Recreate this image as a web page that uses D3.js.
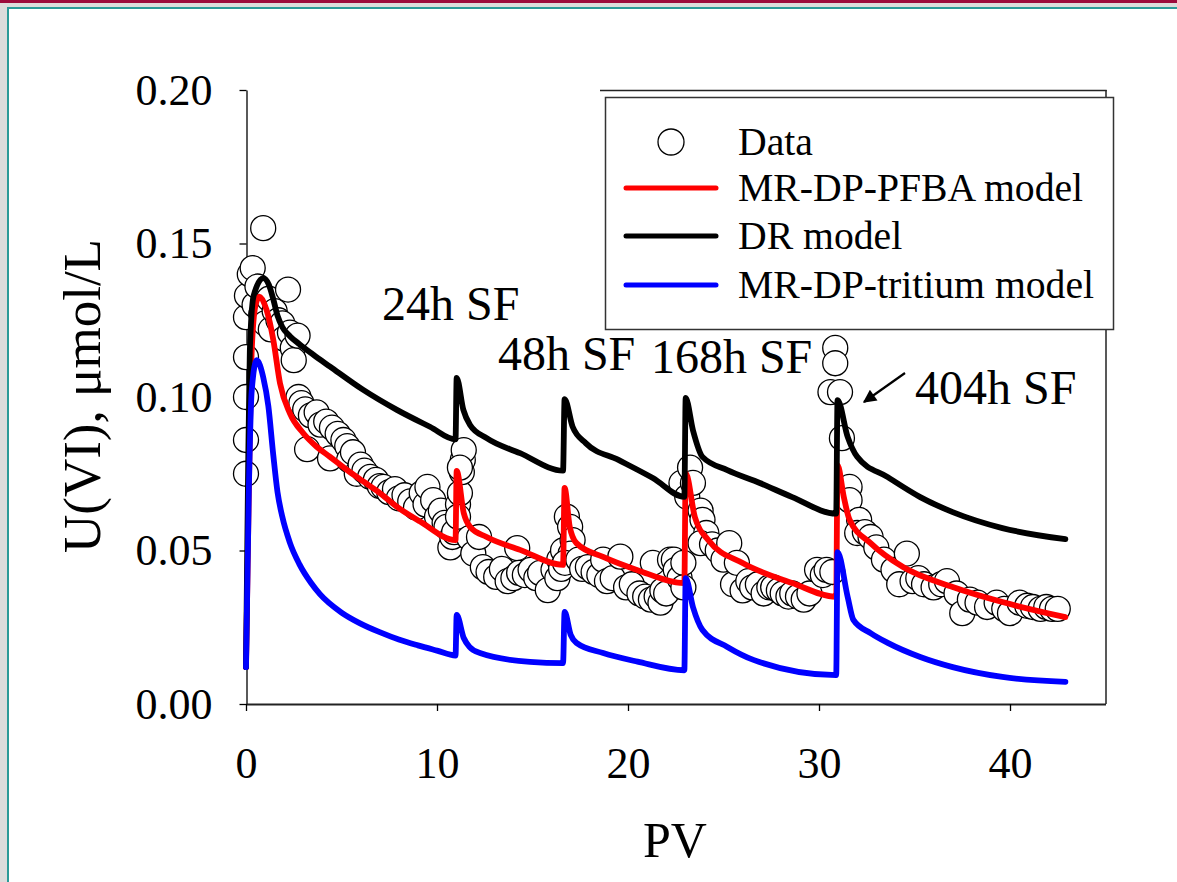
<!DOCTYPE html>
<html>
<head>
<meta charset="utf-8">
<script src="https://cdn.jsdelivr.net/npm/d3@7"></script>
<style>
  body { margin: 0; background: #fff; }
  svg text { font-family: "Liberation Serif", "Times New Roman", serif; fill: #000; }
</style>
</head>
<body>
<div id="chart"></div>
<script>
// tick labels
const xTicks = [0, 10, 20, 30, 40];
const yTicks = [0, 0.05, 0.10, 0.15, 0.20];

// measured data (PV, U(VI) umol/L)
const dataPV = [0.0,0.0,0.0,0.0,0.0,0.05,0.2,0.35,0.9,0.45,0.6,0.8,1.0,1.2,1.3,1.5,1.7,1.9,2.2,2.0,2.3,2.45,2.5,2.7,
  2.75,2.9,3.1,3.2,3.4,3.7,3.9,4.2,4.4,4.5,4.8,5.1,5.3,5.4,5.6,5.8,6.0,6.2,6.5,6.8,7.0,7.2,7.5,7.8,8.0,8.3,8.6,8.9,9.2,9.4,9.5,9.8,10.0,10.2,10.4,10.5,10.7,10.8,10.9,
  11.1,11.2,11.3,11.35,11.4,11.2,11.1,
  11.7,11.9,12.2,12.4,12.7,13.1,13.4,13.7,14.0,14.2,14.3,14.6,14.9,15.2,15.4,15.8,16.1,16.3,16.4,16.5,
  16.6,16.8,16.97,17.1,17.0,16.7,
  17.4,17.6,17.9,18.2,18.5,18.7,18.9,19.2,19.6,19.9,20.2,20.6,20.9,21.2,21.3,21.5,21.7,21.8,22.0,22.2,22.4,22.5,22.7,22.9,22.9,
  22.8,23.1,23.25,23.4,23.8,23.9,24.1,23.8,24.4,
  24.7,25.0,25.3,25.5,25.7,26.0,26.3,26.5,26.8,27.1,27.4,27.6,27.9,28.1,28.4,28.6,28.9,29.2,29.5,29.9,30.2,30.4,30.7,
  30.6,30.85,30.85,31.1,31.2,
  31.6,31.6,32.1,32.0,32.4,32.7,33.0,33.4,33.9,34.2,34.6,34.9,35.2,35.5,36.0,36.4,36.7,37.2,37.5,37.9,38.3,38.8,39.3,39.7,40.0,40.5,40.9,41.2,41.6,41.9,42.2,42.5];
const dataU = [0.075,0.086,0.100,0.113,0.126,0.133,0.140,0.142,0.155,0.130,0.136,0.127,0.124,0.132,0.122,0.128,0.125,0.124,0.135,0.119,0.121,0.116,0.112,0.120,
  0.100,0.098,0.096,0.083,0.094,0.095,0.091,0.092,0.080,0.090,0.088,0.086,0.084,0.0795,0.082,0.075,0.078,0.076,0.074,0.073,0.071,0.0707,0.069,0.070,0.067,0.068,0.066,0.064,0.0687,0.065,0.0707,0.0664,0.061,0.063,0.059,0.0577,0.051,0.0544,0.056,
  0.065,0.0687,0.0755,0.0795,0.0827,0.077,0.061,
  0.054,0.049,0.0544,0.0446,0.043,0.0414,0.044,0.040,0.041,0.0508,0.0427,0.042,0.0437,0.041,0.0427,0.0371,0.0437,0.041,0.047,0.044,
  0.050,0.061,0.0577,0.0534,0.049,0.046,
  0.047,0.044,0.0446,0.043,0.042,0.047,0.040,0.041,0.048,0.038,0.039,0.036,0.035,0.034,0.046,0.035,0.033,0.037,0.036,0.047,0.047,0.0437,0.041,0.046,0.038,
  0.072,0.0675,0.077,0.072,0.063,0.060,0.0557,0.0524,0.052,
  0.050,0.047,0.0524,0.039,0.046,0.037,0.040,0.038,0.039,0.036,0.038,0.038,0.037,0.036,0.035,0.036,0.035,0.034,0.036,0.0437,0.042,0.0437,0.043,
  0.1016,0.116,0.111,0.1016,0.0866,
  0.0707,0.0664,0.060,0.0557,0.056,0.0544,0.051,0.047,0.0437,0.039,0.049,0.040,0.041,0.039,0.038,0.039,0.040,0.036,0.0296,0.034,0.033,0.0316,0.033,0.031,0.0296,0.033,0.032,0.0316,0.031,0.0316,0.031,0.031];

// MR-DP-PFBA model
const pfbaPV = [0,0.15,0.3,0.5,0.7,1.08,1.43,1.78,2.3,3.0,3.7,4.4,5.3,6.14,6.84,8.0,9.1,10.97,
  11.03,11.4,11.73,12.6,14.35,16.6,
  16.68,16.95,17.3,18.7,20.5,22.95,
  23.02,23.5,24.2,26.0,28.6,30.9,
  30.97,31.3,31.6,32.7,34.4,37.0,39.6,42.9];
const pfbaU = [0.012,0.07,0.115,0.130,0.1327,0.1283,0.1186,0.1045,0.0947,0.0882,0.0838,0.0805,0.0762,0.0725,0.0695,0.0638,0.0595,0.0534,
  0.0759,0.0622,0.0577,0.0544,0.0502,0.0453,
  0.0704,0.0577,0.0524,0.0479,0.0436,0.0394,
  0.0752,0.0609,0.0534,0.0459,0.0394,0.0349,
  0.0778,0.0674,0.060,0.0524,0.0446,0.0381,0.0332,0.0283];

// DR model
const drPV = [0,0.1,0.2,0.4,0.9,1.2,1.43,1.65,1.9,2.3,2.8,3.52,4.4,6.14,7.9,9.63,10.97,
  11.03,11.38,11.73,12.6,14.35,16.6,
  16.68,17.1,17.8,19.5,21.3,22.95,
  23.02,23.4,23.9,25.2,26.9,28.6,30.9,
  30.97,31.5,32.0,33.6,35.3,37.0,39.6,42.9];
const drU = [0.012,0.07,0.115,0.133,0.1387,0.1365,0.1318,0.1265,0.1228,0.1198,0.1172,0.1138,0.1099,0.1023,0.0958,0.0903,0.0862,
  0.1062,0.0958,0.0909,0.0866,0.0817,0.0760,
  0.0993,0.0903,0.0849,0.0795,0.0736,0.0675,
  0.0997,0.0892,0.0805,0.0762,0.072,0.0674,0.0620,
  0.099,0.087,0.0805,0.0739,0.0674,0.0625,0.0573,0.0537];

// MR-DP-tritium model
const tritPV = [0,0.15,0.3,0.56,0.9,1.17,1.43,1.65,1.9,2.3,2.8,3.4,3.87,5.0,6.0,7.0,8.0,9.0,10.0,10.97,
  11.03,11.4,11.7,12.25,14.87,16.6,
  16.68,17.0,17.3,18.7,20.5,22.95,
  23.02,23.4,23.9,25.2,26.6,30.9,
  30.97,31.5,31.8,32.7,33.6,35.3,37.0,39.6,42.9];
const tritU = [0.012,0.07,0.102,0.112,0.1065,0.097,0.081,0.069,0.061,0.0525,0.0455,0.0395,0.0358,0.0298,0.0262,0.0234,0.021,0.0191,0.0174,0.0158,
  0.029,0.0215,0.0186,0.0166,0.0137,0.0133,
  0.030,0.0225,0.0199,0.0166,0.0138,0.011,
  0.041,0.0316,0.0241,0.0186,0.0143,0.0094,
  0.0495,0.0349,0.0274,0.0231,0.0199,0.0153,0.012,0.0088,0.0072];

const legendNames = ["Data", "MR-DP-PFBA model", "DR model", "MR-DP-tritium model"];
const lineColors = ["#ff0000", "#000000", "#0000ff"];

const notes = [
  {text: "24h SF", pv: 7.12, u: 0.1251},
  {text: "48h SF", pv: 13.19, u: 0.1088},
  {text: "168h SF", pv: 21.2, u: 0.1078},
  {text: "404h SF", pv: 35.03, u: 0.0977}
];

const W = 1177, H = 882;
const svg = d3.select("#chart").append("svg")
    .attr("width", W).attr("height", H);

// slide frame
svg.append("rect").attr("x", 0).attr("y", 0).attr("width", W).attr("height", 3).attr("fill", "#9c0a3c");
svg.append("rect").attr("x", 0).attr("y", 3).attr("width", W).attr("height", 4).attr("fill", "#dcdcdc");
svg.append("rect").attr("x", 0).attr("y", 3).attr("width", 7).attr("height", H).attr("fill", "#dcdcdc");
svg.append("rect").attr("x", 7).attr("y", 7).attr("width", W - 7).attr("height", 2).attr("fill", "#2b9a98");
svg.append("rect").attr("x", 7).attr("y", 7).attr("width", 2).attr("height", H - 7).attr("fill", "#2b9a98");

const x = d3.scaleLinear().domain([0, 45]).range([246, 1105.5]);
const y = d3.scaleLinear().domain([0, 0.2]).range([704, 90]);

// y axis
const gy = svg.append("g")
    .attr("transform", "translate(246.5,0)")
    .call(d3.axisLeft(y).tickValues(yTicks).tickFormat(d3.format(".2f")).tickSize(7).tickSizeOuter(0).tickPadding(27));
gy.selectAll("text").style("font-size", "44px").style("font-family", "Liberation Serif");
gy.select(".domain").attr("stroke", "#000").attr("stroke-width", 1.3);
gy.selectAll(".tick line").attr("stroke-width", 1.3);

// x axis
const gx = svg.append("g")
    .attr("transform", "translate(0,704)")
    .call(d3.axisBottom(x).tickValues(xTicks).tickSize(7).tickSizeOuter(0).tickPadding(36));
gx.selectAll("text").style("font-size", "44px").style("font-family", "Liberation Serif");
gx.select(".domain").attr("stroke", "#222").attr("stroke-width", 2.2);
gx.selectAll(".tick line").attr("stroke-width", 1.3);

// right border + top segment
svg.append("line").attr("x1", 1106).attr("x2", 1106).attr("y1", 90).attr("y2", 704)
    .attr("stroke", "#222").attr("stroke-width", 1.5);
svg.append("line").attr("x1", 600).attr("x2", 1106.7).attr("y1", 90.5).attr("y2", 90.5)
    .attr("stroke", "#222").attr("stroke-width", 1.5);

// axis titles
svg.append("text")
    .attr("transform", "translate(100,396) rotate(-90)")
    .attr("text-anchor", "middle")
    .style("font-size", "53px")
    .text("U(VI), \u03bcmol/L");
svg.append("text")
    .attr("x", 675).attr("y", 857)
    .attr("text-anchor", "middle")
    .style("font-size", "50px")
    .text("PV");

// data points
const pts = dataPV.map((d, i) => ({pv: d, u: dataU[i]}));
svg.append("g").selectAll("circle")
    .data(pts)
    .join("circle")
        .attr("cx", d => x(d.pv))
        .attr("cy", d => y(d.u))
        .attr("r", 12.5)
        .attr("fill", "#fff")
        .attr("stroke", "#000")
        .attr("stroke-width", 1.3);

// model lines
const models = [
  {pv: pfbaPV, u: pfbaU},
  {pv: drPV, u: drU},
  {pv: tritPV, u: tritU}
].map(m => m.pv.map((d, i) => [d, m.u[i]]));

const line = d3.line()
    .x(d => x(d[0]))
    .y(d => y(d[1]))
    .curve(d3.curveMonotoneX);

svg.append("g").selectAll("path")
    .data(models)
    .join("path")
        .attr("d", line)
        .attr("fill", "none")
        .attr("stroke", (d, i) => lineColors[i])
        .attr("stroke-width", 5.8)
        .attr("stroke-linecap", "round")
        .attr("stroke-linejoin", "round");

// annotations
svg.append("g").selectAll("text")
    .data(notes)
    .join("text")
        .attr("x", d => x(d.pv))
        .attr("y", d => y(d.u))
        .style("font-size", "48px")
        .text(d => d.text);

// arrow to the 404h spike
svg.append("defs").append("marker")
    .attr("id", "ah")
    .attr("viewBox", "0 0 10 10")
    .attr("refX", 9).attr("refY", 5)
    .attr("markerWidth", 7).attr("markerHeight", 6)
    .attr("markerUnits", "strokeWidth")
    .attr("orient", "auto")
  .append("path").attr("d", "M0,0L10,5L0,10z").attr("fill", "#000");
svg.append("line")
    .attr("x1", 905).attr("y1", 373).attr("x2", 864).attr("y2", 402)
    .attr("stroke", "#000").attr("stroke-width", 2.2)
    .attr("marker-end", "url(#ah)");

// legend
const lg = svg.append("g");
lg.append("rect").attr("x", 605.5).attr("y", 97.5).attr("width", 508).attr("height", 232)
    .attr("fill", "#fff").attr("stroke", "#333").attr("stroke-width", 1.5);
const rowY = [142, 188, 236, 285];
legendNames.forEach((name, i) => {
  if (i === 0) {
    lg.append("circle").attr("cx", 671).attr("cy", rowY[i]).attr("r", 13)
        .attr("fill", "#fff").attr("stroke", "#000").attr("stroke-width", 1.3);
  } else {
    lg.append("line").attr("x1", 626).attr("x2", 716).attr("y1", rowY[i]).attr("y2", rowY[i])
        .attr("stroke", lineColors[i - 1]).attr("stroke-width", 5).attr("stroke-linecap", "round");
  }
  lg.append("text").attr("x", 738).attr("y", rowY[i] + 13)
      .style("font-size", "39.7px")
      .text(name);
});
</script>
</body>
</html>
